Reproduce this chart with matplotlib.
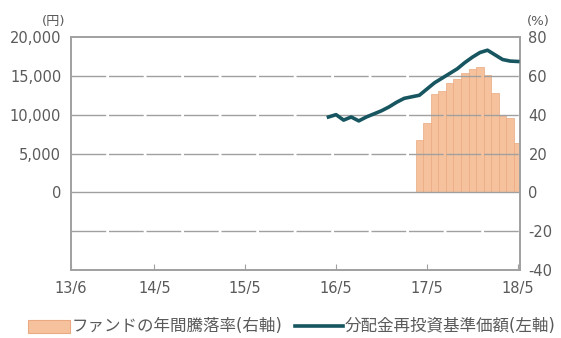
import matplotlib
matplotlib.use("Agg")
import matplotlib.pyplot as plt
from matplotlib.patches import Rectangle
from matplotlib.lines import Line2D

plt.rcParams['font.family'] = ['DejaVu Sans', 'Noto Sans CJK JP']
plt.rcParams['axes.unicode_minus'] = False

# months counted from 13/6 (index 0)
tick_pos = [0, 11, 23, 35, 47, 59]
tick_labels = ["13/6", "14/5", "15/5", "16/5", "17/5", "18/5"]

# fund annual return (%), right axis
bar_months = list(range(46, 60))
bar_values = [26.7, 35.9, 50.8, 52.3, 56.4, 58.5, 61.5, 63.6, 64.6, 60.5, 51.3, 39.5, 38.5, 25.6]

# NAV with dividends reinvested (yen), left axis
nav_months = list(range(34, 60))
nav_values = [9700, 10000, 9300, 9700, 9200, 9700, 10100, 10500, 11000, 11600,
              12100, 12300, 12500, 13300, 14100, 14700, 15300, 15900, 16700,
              17400, 18000, 18300, 17700, 17100, 16900, 16850]

grey = "#a0a0a0"
txt = "#5a5a5a"
bar_c = "#f6c29e"
bar_e = "#eaa980"
line_c = "#175660"

fig = plt.figure(figsize=(5.61, 3.38), dpi=100)
ax = fig.add_axes([0.1266, 0.2012, 0.8004, 0.6893])
ax2 = ax.twinx()

ax2.bar(bar_months, bar_values, width=1.0, color=bar_c, edgecolor=bar_e, linewidth=0.5, zorder=2)

# grid
for y in [15000, 10000, 5000, -5000]:
    ax.axhline(y, color=grey, lw=1.0, ls=(0, (25, 2)), zorder=1)
ax.axhline(0, color=grey, lw=1.0, zorder=1)

ax.set_zorder(ax2.get_zorder() + 1)
ax.patch.set_visible(False)
ax.plot(nav_months, nav_values, color=line_c, lw=2.6, zorder=3)

ax.set_xlim(0, 59.3)
ax.set_ylim(-10000, 20000)
ax2.set_ylim(-40, 80)

ax.set_yticks([0, 5000, 10000, 15000, 20000])
ax.set_yticklabels(["0", "5,000", "10,000", "15,000", "20,000"])
ax2.set_yticks([-40, -20, 0, 20, 40, 60, 80])

ax.set_xticks(tick_pos)
ax.set_xticklabels(tick_labels)
ax.tick_params(axis='x', direction='in', length=4, color=grey, labelsize=10.5, labelcolor=txt, pad=8)
ax.tick_params(axis='y', length=0, labelsize=10.5, labelcolor=txt, pad=7)
ax2.tick_params(axis='y', length=0, labelsize=10.5, labelcolor=txt, pad=6)

for a in (ax, ax2):
    for s in a.spines.values():
        s.set_color(grey)
        s.set_linewidth(1.2)

fig.text(0.117, 0.935, "(円)", fontsize=9.5, color=txt, ha='right', va='center')
fig.text(0.94, 0.935, "(%)", fontsize=9.5, color=txt, ha='left', va='center')

# legend drawn by hand
ly = 1 - 326 / 338
fig.patches.append(Rectangle((28 / 561, 1 - 333 / 338), 42 / 561, 13 / 338,
                             transform=fig.transFigure, facecolor=bar_c, edgecolor=bar_e, lw=0.8))
fig.text(72 / 561, ly, "ファンドの年間騰落率(右軸)", fontsize=11.9, color=txt, va='center', ha='left')
fig.lines.append(Line2D([295 / 561, 343 / 561], [ly, ly], transform=fig.transFigure, color=line_c, lw=2.6))
fig.text(345 / 561, ly, "分配金再投資基準価額(左軸)", fontsize=11.9, color=txt, va='center', ha='left')

fig.savefig("out.png", dpi=100)
